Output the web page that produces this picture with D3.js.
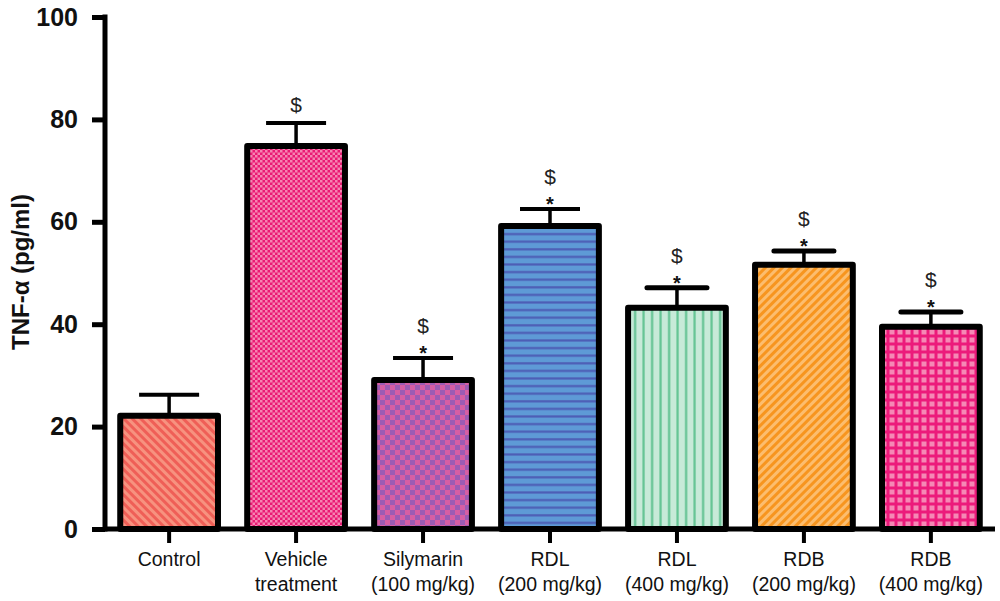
<!DOCTYPE html>
<html><head><meta charset="utf-8">
<script src="https://cdn.jsdelivr.net/npm/d3@7"></script>
<style>html,body{margin:0;padding:0;background:#fff;}svg{display:block;}</style>
</head><body>
<svg id="chart" width="1000" height="601"></svg>
<script>
const categories = ["Control","Vehicle treatment","Silymarin (100 mg/kg)","RDL (200 mg/kg)","RDL (400 mg/kg)","RDB (200 mg/kg)","RDB (400 mg/kg)"];
const labelLines = [["Control"],["Vehicle","treatment"],["Silymarin","(100 mg/kg)"],["RDL","(200 mg/kg)"],["RDL","(400 mg/kg)"],["RDB","(200 mg/kg)"],["RDB","(400 mg/kg)"]];
const means = [22.1, 74.8, 29.1, 59.2, 43.2, 51.6, 39.5];
const errors = [4.1, 4.5, 4.3, 3.3, 3.9, 2.7, 2.9];
const sigDollar = [false, true, true, true, true, true, true];
const sigStar = [false, false, true, true, true, true, true];
const yTicks = [0, 20, 40, 60, 80, 100];
const yTitle = "TNF-α (pg/ml)";

const svg = d3.select("#chart");
const font = "'Liberation Sans', Arial, sans-serif";
const x = d3.scaleBand().domain(categories).range([105, 995]).paddingInner(0.23).paddingOuter(0.12);
const y = d3.scaleLinear().domain([0, 100]).range([529, 17]);

// patterns
const defs = svg.append("defs");
function pat(id, w, h, tr) {
  const p = defs.append("pattern").attr("id", id).attr("patternUnits", "userSpaceOnUse").attr("width", w).attr("height", h);
  if (tr) p.attr("patternTransform", tr);
  return p;
}
// Control: coral "\" stripes
let p = pat("p0", 6, 6, "rotate(45)");
p.append("rect").attr("width", 6).attr("height", 6).attr("fill", "#ef5f57");
p.append("rect").attr("width", 6).attr("height", 3).attr("fill", "#f7927f");
// Vehicle: fine pink checker
p = pat("p1", 5, 5);
p.append("rect").attr("width", 5).attr("height", 5).attr("fill", "#e91b73");
p.append("rect").attr("width", 2.5).attr("height", 2.5).attr("fill", "#f585b2");
p.append("rect").attr("x", 2.5).attr("y", 2.5).attr("width", 2.5).attr("height", 2.5).attr("fill", "#f585b2");
// Silymarin: purple/pink checker
p = pat("p2", 10, 10);
p.append("rect").attr("width", 10).attr("height", 10).attr("fill", "#d65ea4");
p.append("rect").attr("width", 5).attr("height", 5).attr("fill", "#9b5cb4");
p.append("rect").attr("x", 5).attr("y", 5).attr("width", 5).attr("height", 5).attr("fill", "#9b5cb4");
// RDL 200: blue horizontal lines
p = pat("p3", 8, 7.6);
p.append("rect").attr("width", 8).attr("height", 7.6).attr("fill", "#5e9ad6");
p.append("rect").attr("y", 5).attr("width", 8).attr("height", 2.2).attr("fill", "#4d5db5");
// RDL 400: mint vertical lines
p = pat("p4", 8.5, 8);
p.append("rect").attr("width", 8.5).attr("height", 8).attr("fill", "#c7ead8");
p.append("rect").attr("x", 5).attr("width", 2.2).attr("height", 8).attr("fill", "#62c392");
// RDB 200: orange "/" stripes
p = pat("p5", 6, 6, "rotate(-45)");
p.append("rect").attr("width", 6).attr("height", 6).attr("fill", "#f7951f");
p.append("rect").attr("width", 6).attr("height", 3).attr("fill", "#fcbd6e");
// RDB 400: pink grid
p = pat("p6", 8, 8);
p.append("rect").attr("width", 8).attr("height", 8).attr("fill", "#ec1a7b");
p.append("rect").attr("x", 1.5).attr("y", 1.5).attr("width", 5).attr("height", 5).attr("fill", "#f588b5");

const g = svg.append("g");

// error bars (behind bars)
categories.forEach((c, i) => {
  const cx = x(c) + x.bandwidth() / 2;
  g.append("line").attr("x1", cx).attr("x2", cx).attr("y1", y(means[i])).attr("y2", y(means[i] + errors[i]))
    .attr("stroke", "#000").attr("stroke-width", 3.5);
  g.append("line").attr("x1", cx - 30).attr("x2", cx + 30).attr("y1", y(means[i] + errors[i])).attr("y2", y(means[i] + errors[i]))
    .attr("stroke", "#000").attr("stroke-width", i >= 4 ? 5 : 4).attr("stroke-linecap", i >= 4 ? "round" : "butt");
});

// bars
g.selectAll("rect.bar").data(categories).join("rect").attr("class", "bar")
  .attr("x", d => x(d)).attr("width", x.bandwidth())
  .attr("y", (d, i) => y(means[i])).attr("height", (d, i) => y(0) - y(means[i]))
  .attr("fill", (d, i) => `url(#p${i})`)
  .attr("stroke", "#000").attr("stroke-width", 6).attr("stroke-linejoin", "round");

// significance marks
categories.forEach((c, i) => {
  const cx = x(c) + x.bandwidth() / 2;
  const top = y(means[i] + errors[i]);
  if (sigStar[i]) {
    g.append("text").attr("x", cx).attr("y", top - 13).attr("dy", "0.75em")
      .attr("text-anchor", "middle").attr("font-family", font).attr("font-size", 20).attr("fill", "#111")
      .attr("font-weight", "bold").text("*");
  }
  if (sigDollar[i]) {
    g.append("text").attr("x", cx).attr("y", top - (sigStar[i] ? 32 : 18)).attr("dy", "0.35em")
      .attr("text-anchor", "middle").attr("font-family", font).attr("font-size", 21).attr("fill", "#222")
      .text("$");
  }
});

// axes
const yAxis = svg.append("g").attr("transform", "translate(105,0)")
  .call(d3.axisLeft(y).tickValues(yTicks).tickSize(13).tickPadding(14).tickFormat(d3.format("d")));
yAxis.select(".domain").attr("d", `M0,${y(100)}V${y(0)}`).attr("stroke-width", 5).attr("stroke-linecap", "square");
yAxis.selectAll(".tick line").attr("stroke-width", 5);
yAxis.selectAll(".tick text").attr("font-family", font).attr("font-size", 25).attr("font-weight", "bold").attr("fill", "#111");

const xAxis = svg.append("g").attr("transform", `translate(0,${y(0)})`)
  .call(d3.axisBottom(x).tickSize(14).tickFormat(""));
xAxis.select(".domain").attr("d", `M105,0H995`).attr("stroke-width", 5);
xAxis.selectAll(".tick line").attr("stroke-width", 4);
xAxis.selectAll(".tick").each(function(d, i) {
  const t = d3.select(this).append("text").attr("y", 37).attr("fill", "#111")
    .attr("font-family", font).attr("font-size", 19.5).attr("text-anchor", "middle");
  labelLines[i].forEach((ln, k) => t.append("tspan").attr("x", 0).attr("dy", k === 0 ? 0 : 25).text(ln));
});

// y title
svg.append("text").attr("transform", "translate(29,272) rotate(-90)")
  .attr("text-anchor", "middle").attr("font-family", font).attr("font-size", 24).attr("font-weight", "bold").attr("fill", "#111")
  .text(yTitle);
</script>
</body></html>
